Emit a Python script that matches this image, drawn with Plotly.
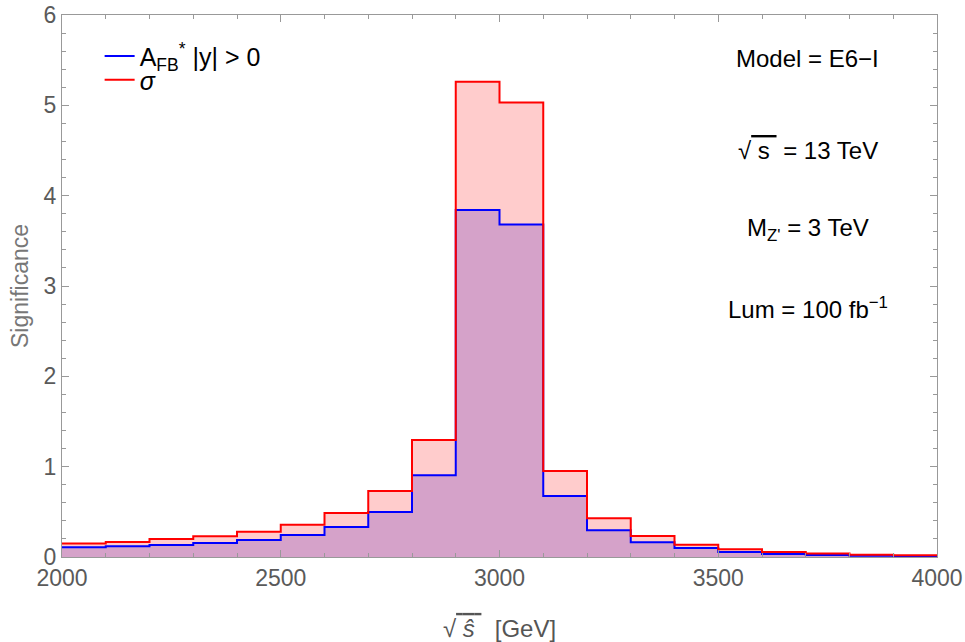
import plotly.graph_objects as go

bin_edges = [2000, 2100, 2200, 2300, 2400, 2500, 2600, 2700, 2800, 2900, 3000,
             3100, 3200, 3300, 3400, 3500, 3600, 3700, 3800, 3900, 4000]
sigma_vals = [0.150, 0.166, 0.200, 0.229, 0.280, 0.358, 0.487, 0.730, 1.295, 5.26,
              5.03, 0.952, 0.428, 0.232, 0.136, 0.085, 0.055, 0.040, 0.026, 0.018]
afb_vals = [0.107, 0.118, 0.133, 0.155, 0.188, 0.244, 0.332, 0.498, 0.904, 3.84,
            3.68, 0.675, 0.295, 0.162, 0.100, 0.055, 0.033, 0.022, 0.015, 0.008]

sig_y = sigma_vals + [sigma_vals[-1]]
afb_y = afb_vals + [afb_vals[-1]]

fig = go.Figure()
fig.add_trace(go.Scatter(x=bin_edges, y=sig_y, mode="lines", line_shape="hv",
                         line=dict(width=0), fill="tozeroy", fillcolor="#ffcccc",
                         showlegend=False, hoverinfo="skip"))
fig.add_trace(go.Scatter(x=bin_edges, y=afb_y, mode="lines", line_shape="hv",
                         line=dict(width=0), fill="tozeroy", fillcolor="#d5a2c9",
                         showlegend=False, hoverinfo="skip"))
fig.add_trace(go.Scatter(x=bin_edges, y=afb_y, mode="lines", line_shape="hv",
                         line=dict(color="#0000ff", width=2),
                         name="A<sub>FB</sub><sup>*</sup> |y| > 0", legend="legend"))
fig.add_trace(go.Scatter(x=bin_edges, y=sig_y, mode="lines", line_shape="hv",
                         line=dict(color="#ff0000", width=2),
                         name="<i>σ</i>", legend="legend2"))

tick_font = dict(family="Liberation Sans", size=23, color="#5a5a5a")
axis_common = dict(showgrid=False, zeroline=False, showline=True, linecolor="#999999",
                   linewidth=1, mirror="ticks", ticks="inside", ticklen=7,
                   tickcolor="#999999", tickfont=tick_font, automargin=False)

fig.update_xaxes(range=[2000, 4000], tickvals=[2000, 2500, 3000, 3500, 4000],
                 minor=dict(dtick=100, ticks="inside", ticklen=4, tickcolor="#999999"),
                 title=dict(text="√<span style='text-decoration:overline'> <i>ŝ</i> </span>  [GeV]",
                            font=dict(family="Liberation Sans", size=24, color="#555555"),
                            standoff=30),
                 **axis_common)
fig.update_yaxes(range=[0, 6], tickvals=[0, 1, 2, 3, 4, 5, 6],
                 minor=dict(dtick=0.2, ticks="inside", ticklen=4, tickcolor="#999999"),
                 title=dict(text="Significance",
                            font=dict(family="Liberation Sans", size=23, color="#777777"),
                            standoff=8),
                 **axis_common)

ann_font = dict(family="Liberation Sans", size=24, color="#000000")
notes = [("Model = E6−I", 5.52),
         ("√<span style='text-decoration:overline'> s </span> = 13 TeV", 4.5),
         ("M<sub>Z'</sub> = 3 TeV", 3.62),
         ("Lum = 100 fb<sup>−1</sup>", 2.76)]
for txt, yv in notes:
    fig.add_annotation(x=3705, y=yv, text=txt, showarrow=False, font=ann_font,
                       xanchor="center", yanchor="middle")

leg_font = dict(family="Liberation Sans", size=25, color="#000000")
fig.update_layout(
    width=965, height=642,
    margin=dict(l=62, r=28, t=15, b=85),
    plot_bgcolor="white", paper_bgcolor="white",
    legend=dict(x=0.043, y=0.924, xanchor="left", yanchor="middle",
                font=leg_font, bgcolor="rgba(0,0,0,0)"),
    legend2=dict(x=0.043, y=0.88, xanchor="left", yanchor="middle",
                 font=leg_font, bgcolor="rgba(0,0,0,0)"),
)

fig.write_html("out.html")
